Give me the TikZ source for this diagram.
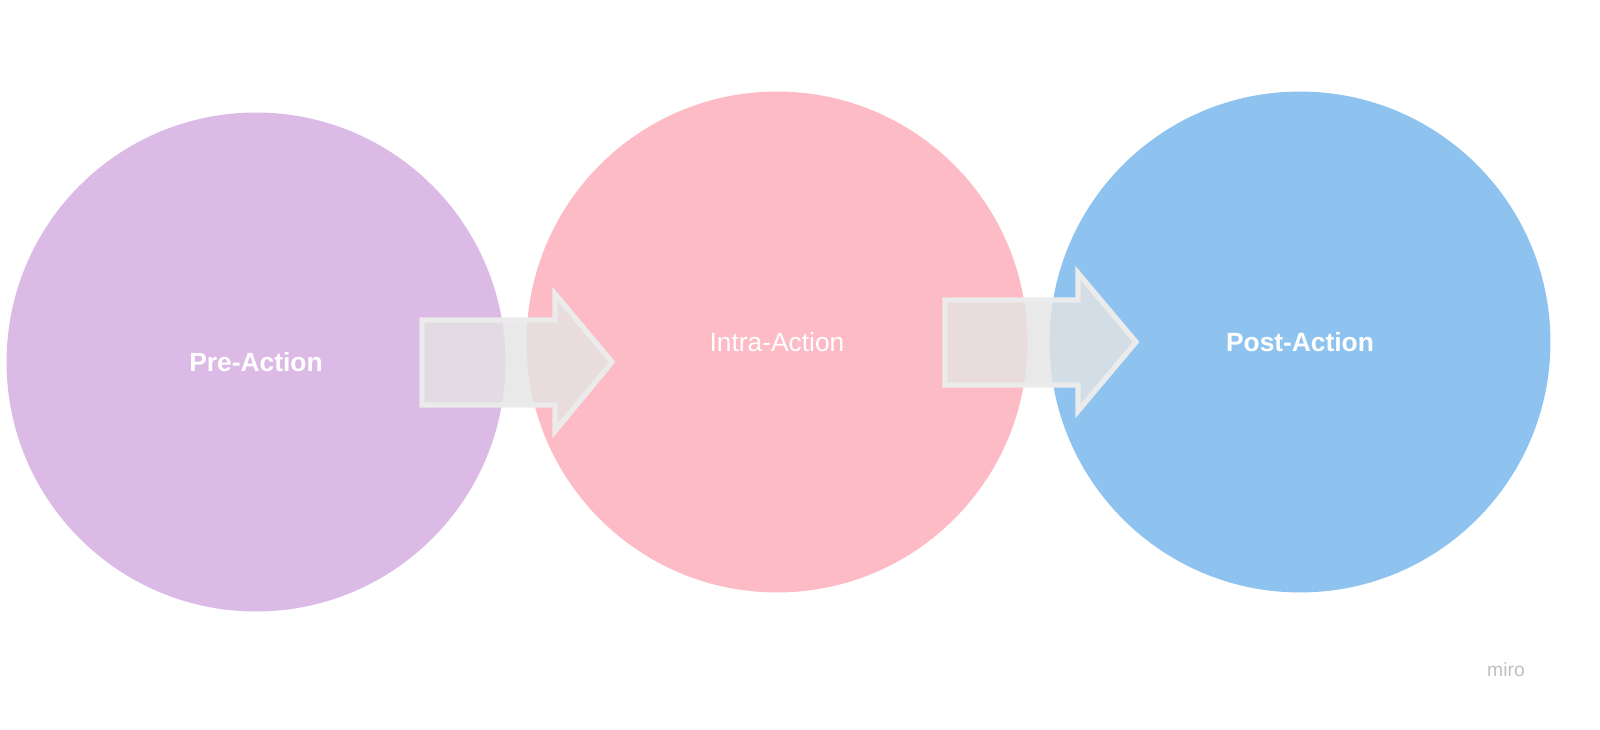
\documentclass[tikz,border=0pt]{standalone}
\usepackage{fontspec}
\setmainfont{Liberation Sans}
\definecolor{cpre}{HTML}{DCBAE6}
\definecolor{cintra}{HTML}{FDBCC5}
\definecolor{cpost}{HTML}{8EC3F0}
\definecolor{arrfill}{HTML}{E4E4E4}
\definecolor{arrdraw}{HTML}{EBEBEB}
\tikzset{
  circ/.style={circle,inner sep=0pt,minimum size=10.02cm},
  lbl/.style={text=white,font=\fontsize{15}{18}\selectfont},
  bigarrow/.style={fill=arrfill,fill opacity=0.8,draw=arrdraw,line width=3pt,line join=miter}
}
\begin{document}
\begin{tikzpicture}[x=0.02cm,y=-0.02cm]
\useasboundingbox (0,0) rectangle (1600,730);
\node[circ,fill=cpre,minimum size=9.98cm] (pre) at (256,362) {};
\node[circ,fill=cintra] (intra) at (777,342) {};
\node[circ,fill=cpost] (post) at (1300,342) {};
\node[lbl,font=\fontsize{15}{18}\selectfont\bfseries] (tpre) at (pre) {Pre-Action};
\node[lbl] (tintra) at (intra) {Intra-Action};
\node[lbl,font=\fontsize{15}{18}\selectfont\bfseries] (tpost) at (post) {Post-Action};
\draw[bigarrow] (422,320) -- (555,320) -- (555,294) -- (612,362) -- (555,431) -- (555,405) -- (422,405) -- cycle;
\draw[bigarrow] (945,300) -- (1078,300) -- (1078,273) -- (1136,342) -- (1078,411) -- (1078,385) -- (945,385) -- cycle;
\node[text=black!25,font=\fontsize{11}{13}\selectfont] (miro) at (1506,670) {miro};
\end{tikzpicture}
\end{document}
